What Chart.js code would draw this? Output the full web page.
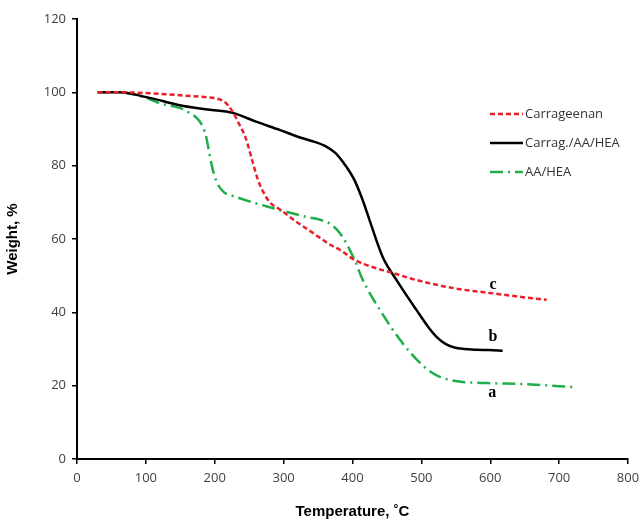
<!DOCTYPE html>
<html lang="en">
<head>
  <meta charset="UTF-8">
  <title>TGA curves</title>
  <script src="https://cdn.jsdelivr.net/npm/chart.js"></script>
  <style>
    html, body { margin: 0; padding: 0; background: #fff; }
    .chart-box { width: 642px; height: 525px; position: relative; }
  </style>
</head>
<body>
  <div class="chart-box">
    <canvas id="tgaChart"></canvas>
  </div>

<script>
// Carrageenan (c)
const tempCarr = [30, 60, 100, 150, 185, 205, 215, 225, 235, 245, 255, 263, 270, 280, 295, 320, 343, 367, 382, 403, 430, 459, 493, 530, 560, 599, 640, 682];
const wtCarr = [100, 100, 99.8, 99.2, 98.7, 98.2, 97.3, 95, 91.5, 87.5, 81, 76, 73, 70, 68, 64.5, 61.6, 58.5, 57, 54.3, 52.3, 50.7, 48.8, 47.2, 46.2, 45.3, 44.3, 43.4];

// Carrag./AA/HEA (b)
const tempGraft = [30, 60, 101, 149, 190, 226, 260, 295, 325, 345, 360, 375, 390, 403, 415, 425, 444, 464, 493, 510, 522, 535, 548, 562, 580, 599, 618];
const wtGraft = [100, 100, 98.7, 96.5, 95.3, 94.4, 92, 89.7, 87.6, 86.5, 85.4, 83.5, 80, 76, 70.5, 65, 55, 48.8, 40.6, 36, 33.3, 31.4, 30.4, 30, 29.8, 29.7, 29.5];

// AA/HEA (a)
const tempAA = [30, 60, 100, 120, 150, 164, 175, 183, 188, 192, 197, 203, 212, 232, 285, 334, 352, 367, 380, 392, 403, 415, 440, 469, 498, 515, 527, 545, 560, 595, 650, 723];
const wtAA = [100, 100, 98.5, 97, 95.7, 94.3, 92.8, 90.5, 87.5, 83.5, 79, 75.5, 73, 71.4, 68.4, 66, 65.3, 64.2, 62, 58.5, 54.3, 48.8, 40.6, 32.5, 26.2, 23.6, 22.4, 21.4, 21, 20.7, 20.4, 19.6];

const seriesNames = ['Carrageenan', 'Carrag./AA/HEA', 'AA/HEA'];
const curveLetters = ['c', 'b', 'a'];
const letterTemp = [604, 604, 603];
const letterWt = [47.5, 33.3, 18];

function pts(xs, ys) {
  return xs.map((x, i) => ({ x: x, y: ys[i] }));
}

const colors = ['#e8202a', '#000000', '#1fae4a'];
const dashes = [[5, 3], [], [13, 5, 2, 5]];

// legend drawn at the upper right, plus a/b/c letters next to curve ends
const extras = {
  id: 'extras',
  afterDraw(chart) {
    const ctx = chart.ctx;
    const xs = chart.scales.x, ys = chart.scales.y;
    ctx.save();
    const rows = [114, 143, 172];
    seriesNames.forEach((name, i) => {
      ctx.beginPath();
      ctx.strokeStyle = colors[i];
      ctx.lineWidth = 2.5;
      ctx.setLineDash(dashes[i]);
      ctx.moveTo(490, rows[i]);
      ctx.lineTo(523, rows[i]);
      ctx.stroke();
      ctx.setLineDash([]);
      ctx.fillStyle = '#333';
      ctx.font = '13px "Open Sans", sans-serif';
      ctx.textBaseline = 'middle';
      ctx.textAlign = 'left';
      ctx.fillText(name, 525, rows[i]);
    });
    ctx.fillStyle = '#000';
    ctx.font = 'bold 16px "Liberation Serif", serif';
    ctx.textAlign = 'center';
    curveLetters.forEach((s, i) => {
      ctx.fillText(s, xs.getPixelForValue(letterTemp[i]), ys.getPixelForValue(letterWt[i]));
    });
    ctx.restore();
  }
};

new Chart(document.getElementById('tgaChart'), {
  type: 'line',
  data: {
    datasets: [
      { label: seriesNames[0], data: pts(tempCarr, wtCarr), borderColor: colors[0], borderDash: dashes[0], borderWidth: 2.5 },
      { label: seriesNames[1], data: pts(tempGraft, wtGraft), borderColor: colors[1], borderDash: dashes[1], borderWidth: 2.5 },
      { label: seriesNames[2], data: pts(tempAA, wtAA), borderColor: colors[2], borderDash: dashes[2], borderWidth: 2.5 }
    ]
  },
  options: {
    responsive: true,
    maintainAspectRatio: false,
    animation: false,
    layout: { padding: { top: 19, right: 14, left: 0, bottom: 0 } },
    elements: {
      point: { radius: 0 },
      line: { cubicInterpolationMode: 'monotone', fill: false }
    },
    plugins: {
      legend: { display: false },
      tooltip: { enabled: false }
    },
    scales: {
      x: {
        type: 'linear',
        min: 0, max: 800,
        ticks: { stepSize: 100, color: '#404040', font: { size: 13, family: '"Open Sans", sans-serif' }, padding: 6 },
        grid: { drawOnChartArea: false, drawTicks: true, tickLength: 5, color: '#000', lineWidth: 1.5 },
        border: { color: '#000', width: 2 },
        title: { display: true, text: 'Temperature, ˚C', color: '#000', font: { size: 15, weight: 'bold', family: '"Liberation Sans", Arial, sans-serif' }, padding: { top: 8 } },
        afterFit(scale) { scale.height = 66; scale.paddingRight = 0; }
      },
      y: {
        min: 0, max: 120,
        ticks: { stepSize: 20, color: '#404040', font: { size: 13, family: '"Open Sans", sans-serif' }, padding: 6 },
        grid: { drawOnChartArea: false, drawTicks: true, tickLength: 5, color: '#000', lineWidth: 1.5 },
        border: { color: '#000', width: 2 },
        title: { display: true, text: 'Weight, %', color: '#000', font: { size: 15, weight: 'bold', family: '"Liberation Sans", Arial, sans-serif' }, padding: { bottom: 12 } },
        afterFit(scale) { scale.width = 77; }
      }
    }
  },
  plugins: [extras]
});
</script>
</body>
</html>
